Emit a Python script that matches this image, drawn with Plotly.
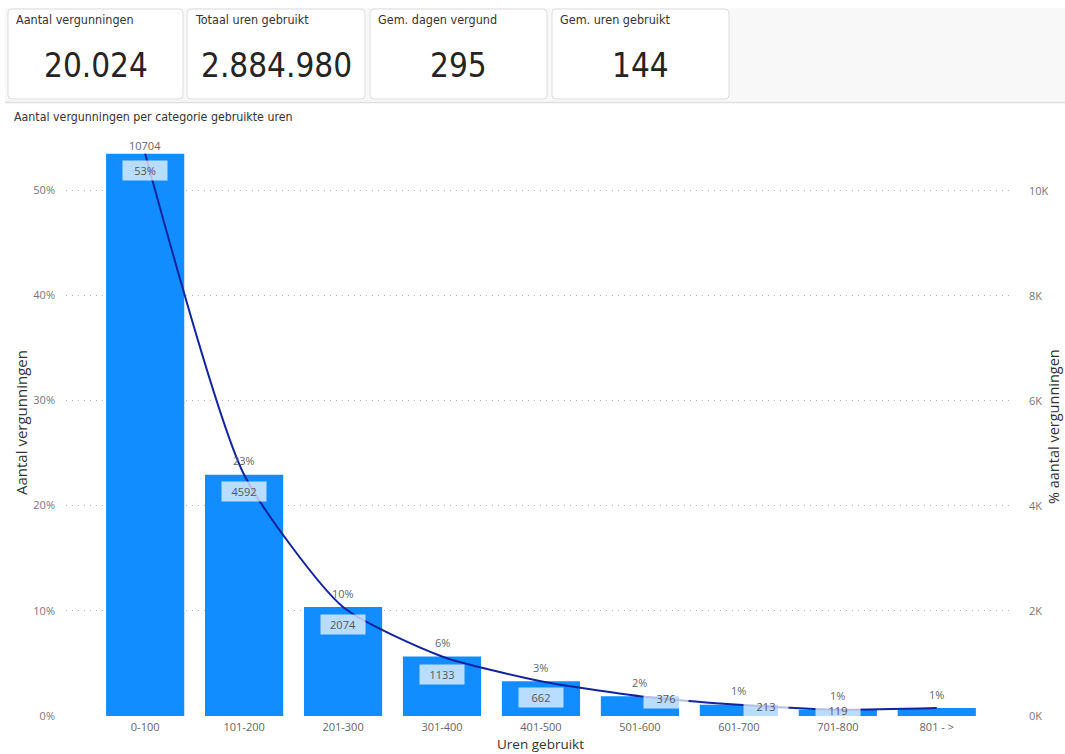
import plotly.graph_objects as go

# ---- data ----
categories = ["0-100", "101-200", "201-300", "301-400", "401-500",
              "501-600", "601-700", "701-800", "801 - >"]
counts = [10704, 4592, 2074, 1133, 662, 376, 213, 119, 151]
total = sum(counts)
pct = [c / total for c in counts]

kpi_titles = ["Aantal vergunningen", "Totaal uren gebruikt", "Gem. dagen vergund", "Gem. uren gebruikt"]
kpi_values = ["20.024", "2.884.980", "295", "144"]

left_ticks = [0, 0.1, 0.2, 0.3, 0.4, 0.5]
right_ticks = [0, 2000, 4000, 6000, 8000, 10000]
right_ticktext = ["0K", "2K", "4K", "6K", "8K", "10K"]

# ---- layout geometry (pixels) ----
W, H = 1065, 754
L, R, T, B = 66, 1010, 148, 716


def px(x):
    return (x - L) / (R - L)


def py(y):
    return (B - y) / (B - T)


def rrect(x0, y0, x1, y1, r):
    rx = r / (R - L)
    ry = r / (B - T)
    X0, X1 = px(x0), px(x1)
    Y0, Y1 = py(y0), py(y1)  # Y0 top (larger)
    return (f"M{X0+rx},{Y0} L{X1-rx},{Y0} Q{X1},{Y0} {X1},{Y0-ry} "
            f"L{X1},{Y1+ry} Q{X1},{Y1} {X1-rx},{Y1} L{X0+rx},{Y1} "
            f"Q{X0},{Y1} {X0},{Y1+ry} L{X0},{Y0-ry} Q{X0},{Y0} {X0+rx},{Y0} Z")


NARROW = "DejaVu Sans Condensed, Liberation Sans Narrow, Roboto, sans-serif"
UI = "Segoe UI, Open Sans, Noto Sans, sans-serif"

fig = go.Figure()
fig.add_trace(go.Bar(x=categories, y=pct, marker=dict(color="#118DFF", line=dict(width=0)),
                     yaxis="y", hoverinfo="skip"))
fig.add_trace(go.Scatter(x=categories, y=counts, yaxis="y2", mode="lines",
                         line=dict(color="#12239E", width=2, shape="spline", smoothing=0.6),
                         hoverinfo="skip"))

shapes = []
annotations = []

# top band
shapes.append(dict(type="rect", xref="paper", yref="paper", x0=px(5), x1=px(1065), y0=py(102), y1=py(8),
                   fillcolor="#f8f8f8", line=dict(width=0), layer="below"))
shapes.append(dict(type="line", xref="paper", yref="paper", x0=px(5), x1=px(1065), y0=py(102.5), y1=py(102.5),
                   line=dict(color="#e0e0e0", width=1.5)))
cards = [(8, 183), (187, 365), (370, 547), (552, 729)]
for (x0, x1), t, v in zip(cards, kpi_titles, kpi_values):
    shapes.append(dict(type="path", xref="paper", yref="paper", path=rrect(x0, 9, x1, 99, 4),
                       fillcolor="white", line=dict(color="#dcdcdc", width=1)))
    annotations.append(dict(xref="paper", yref="paper", x=px(x0 + 6), y=py(19), text=t, showarrow=False,
                            xanchor="left", yanchor="middle", font=dict(family=NARROW, size=12.5, color="#333")))
    annotations.append(dict(xref="paper", yref="paper", x=px((x0 + x1) / 2), y=py(65), text=v, showarrow=False,
                            xanchor="center", yanchor="middle", font=dict(family=NARROW, size=33, color="#252423")))

# chart title
annotations.append(dict(xref="paper", yref="paper", x=px(12), y=py(117), text="Aantal vergunningen per categorie gebruikte uren",
                        showarrow=False, xanchor="left", yanchor="middle", font=dict(family=NARROW, size=12.3, color="#333")))

# axis titles
annotations.append(dict(xref="paper", yref="paper", x=px(21), y=py(423), text="Aantal vergunningen", textangle=-90,
                        showarrow=False, xanchor="center", yanchor="middle", font=dict(family=UI, size=15, color="#333")))
annotations.append(dict(xref="paper", yref="paper", x=px(1053), y=py(427), text="% aantal vergunningen", textangle=-90,
                        showarrow=False, xanchor="center", yanchor="middle", font=dict(family=UI, size=14.5, color="#333")))
annotations.append(dict(xref="paper", yref="paper", x=px(540), y=py(743.5), text="Uren gebruikt",
                        showarrow=False, xanchor="center", yanchor="middle", font=dict(family=UI, size=13.5, color="#333")))

# data labels
box_shift = [(0, -17), (0, -17), (0, -17), (0, -18), (0, -16), (26, -2), (27, -2), (0, -1), None]
for i, (c, n, p) in enumerate(zip(categories, counts, pct)):
    pct_txt = f"{round(p * 100):.0f}%"
    cnt_txt = str(n)
    if i == 0:
        top_txt, box_txt = cnt_txt, pct_txt
        top_shift = 8
    else:
        top_txt, box_txt = pct_txt, cnt_txt
        top_shift = 14
    annotations.append(dict(x=c, y=p, xref="x", yref="y", text=top_txt, showarrow=False, yshift=top_shift,
                            xanchor="center", yanchor="middle", font=dict(family=UI, size=11, color="#666")))
    if box_shift[i] is not None:
        xs, ys = box_shift[i]
        annotations.append(dict(x=c, y=n, xref="x", yref="y2", text=box_txt, showarrow=False,
                                xshift=xs, yshift=ys, xanchor="center", yanchor="middle",
                                width=42, height=17, bgcolor="rgba(255,255,255,0.7)",
                                font=dict(family=UI, size=11, color="#555")))

fig.update_layout(
    width=W, height=H,
    margin=dict(l=L, r=W - R, t=T, b=H - B, autoexpand=False),
    paper_bgcolor="white", plot_bgcolor="white",
    showlegend=False, bargap=0.21,
    font=dict(family=UI, size=11, color="#666"),
    xaxis=dict(range=[-0.8, 8.74], showgrid=False, zeroline=False, showline=False, ticks="",
               ticklabelstandoff=3, tickfont=dict(size=11, color="#666"), fixedrange=True),
    yaxis=dict(range=[0, 0.54], tickvals=left_ticks, tickformat=".0%", showgrid=True,
               gridcolor="#b4b4b4", griddash="1px,5px", gridwidth=1, zeroline=False, showline=False,
               ticks="", ticklabelstandoff=10, tickfont=dict(size=11, color="#777")),
    yaxis2=dict(range=[0, 0.54 * total], overlaying="y", side="right", tickvals=right_ticks,
                ticktext=right_ticktext, showgrid=False, zeroline=False, showline=False,
                ticks="", ticklabelstandoff=18, tickfont=dict(size=11, color="#777")),
    shapes=shapes, annotations=annotations,
)

fig.write_html("out.html", config={"displayModeBar": False},
               post_script="document.body.style.margin='0';document.body.style.overflow='hidden';")
